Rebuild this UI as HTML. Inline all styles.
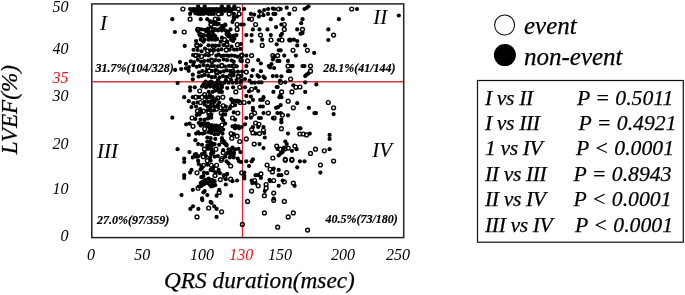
<!DOCTYPE html>
<html><head><meta charset="utf-8">
<style>
html,body{margin:0;padding:0;background:#fff;width:685px;height:295px;overflow:hidden;}
svg{display:block;will-change:transform;}
text{font-family:"Liberation Serif",serif;font-style:italic;fill:#000;stroke:#000;stroke-width:0.25px;}
.t{font-size:16px;}
.t text{stroke-width:0;}
.q{font-size:21px;}
.q text{stroke-width:0.1px;}
.p{font-size:12px;font-weight:bold;}
.p text{stroke-width:0.2px;}
.s{font-size:21.7px;}
.r{fill:#e8151d;stroke:#e8151d;}
.L{letter-spacing:-0.4px;}
</style></head><body>
<svg width="685" height="295" viewBox="0 0 685 295">
<!-- y tick labels -->
<g class="t" text-anchor="end">
<text x="68.6" y="11.7">50</text>
<text x="68.6" y="54.0">40</text>
<text x="68.6" y="82.7" class="r">35</text>
<text x="68.6" y="101.4">30</text>
<text x="68.6" y="148.7">20</text>
<text x="68.6" y="194.1">10</text>
<text x="68.6" y="241.1">0</text>
</g>
<!-- x tick labels -->
<g class="t">
<text x="87" y="259.6">0</text>
<text x="134.3" y="259.6">50</text>
<text x="190" y="259.6">100</text>
<text x="229.2" y="259.6" class="r">130</text>
<text x="268" y="259.6">150</text>
<text x="331" y="259.6">200</text>
<text x="386" y="259.6">250</text>
</g>
<!-- axis titles -->
<text x="164" y="288.3" style="font-size:23.3px">QRS duration(msec)</text>
<text transform="translate(17,154.3) rotate(-90)" style="font-size:23.2px">LVEF(%)</text>
<!-- red lines -->
<line x1="92.5" y1="81.8" x2="403" y2="81.8" stroke="#dc3a3c" stroke-width="1.6"/>
<line x1="242.5" y1="4.5" x2="242.5" y2="237" stroke="#e3242f" stroke-width="1.3"/>
<!-- dots -->
<g id="dots"><g fill="#000"><circle cx="186.2" cy="124.3" r="2.1"/><circle cx="189.5" cy="123.6" r="2.1"/><circle cx="198.7" cy="123.0" r="2.1"/><circle cx="202.0" cy="123.6" r="2.1"/><circle cx="204.7" cy="123.0" r="2.1"/><circle cx="208.0" cy="123.6" r="2.1"/><circle cx="211.3" cy="125.0" r="2.1"/><circle cx="214.6" cy="125.6" r="2.1"/><circle cx="225.2" cy="123.6" r="2.1"/><circle cx="232.5" cy="126.3" r="2.1"/><circle cx="235.1" cy="125.6" r="2.1"/><circle cx="238.4" cy="126.3" r="2.1"/><circle cx="241.7" cy="127.0" r="2.1"/><circle cx="210.0" cy="128.9" r="2.1"/><circle cx="212.6" cy="128.3" r="2.1"/><circle cx="215.9" cy="128.9" r="2.1"/><circle cx="219.2" cy="128.3" r="2.1"/><circle cx="223.2" cy="129.6" r="2.1"/><circle cx="235.1" cy="128.3" r="2.1"/><circle cx="239.1" cy="128.3" r="2.1"/><circle cx="188.8" cy="134.9" r="2.1"/><circle cx="196.1" cy="133.6" r="2.1"/><circle cx="199.4" cy="133.6" r="2.1"/><circle cx="202.7" cy="133.6" r="2.1"/><circle cx="211.3" cy="132.9" r="2.1"/><circle cx="214.6" cy="134.2" r="2.1"/><circle cx="217.9" cy="134.2" r="2.1"/><circle cx="222.5" cy="133.6" r="2.1"/><circle cx="233.8" cy="134.2" r="2.1"/><circle cx="195.4" cy="140.2" r="2.1"/><circle cx="207.3" cy="137.5" r="2.1"/><circle cx="210.6" cy="138.2" r="2.1"/><circle cx="215.3" cy="138.9" r="2.1"/><circle cx="221.9" cy="138.2" r="2.1"/><circle cx="207.3" cy="141.5" r="2.1"/><circle cx="210.6" cy="142.2" r="2.1"/><circle cx="224.5" cy="142.2" r="2.1"/><circle cx="225.8" cy="144.1" r="2.1"/><circle cx="198.1" cy="144.1" r="2.1"/><circle cx="202.0" cy="144.8" r="2.1"/><circle cx="207.3" cy="145.5" r="2.1"/><circle cx="212.0" cy="145.5" r="2.1"/><circle cx="214.6" cy="144.1" r="2.1"/><circle cx="219.2" cy="144.8" r="2.1"/><circle cx="226.5" cy="144.8" r="2.1"/><circle cx="232.5" cy="147.5" r="2.1"/><circle cx="177.6" cy="149.2" r="2.1"/><circle cx="208.0" cy="148.8" r="2.1"/><circle cx="211.3" cy="149.4" r="2.1"/><circle cx="223.2" cy="150.1" r="2.1"/><circle cx="228.5" cy="149.4" r="2.1"/><circle cx="231.8" cy="148.8" r="2.1"/><circle cx="235.1" cy="149.4" r="2.1"/><circle cx="238.4" cy="148.8" r="2.1"/><circle cx="189.5" cy="152.1" r="2.1"/><circle cx="196.1" cy="154.1" r="2.1"/><circle cx="204.7" cy="152.7" r="2.1"/><circle cx="211.3" cy="153.4" r="2.1"/><circle cx="227.2" cy="153.4" r="2.1"/><circle cx="230.5" cy="152.1" r="2.1"/><circle cx="233.8" cy="152.7" r="2.1"/><circle cx="240.4" cy="152.1" r="2.1"/><circle cx="184.2" cy="158.7" r="2.1"/><circle cx="192.8" cy="157.4" r="2.1"/><circle cx="196.7" cy="156.7" r="2.1"/><circle cx="206.0" cy="156.1" r="2.1"/><circle cx="210.0" cy="157.4" r="2.1"/><circle cx="214.6" cy="156.7" r="2.1"/><circle cx="217.9" cy="156.1" r="2.1"/><circle cx="225.2" cy="156.7" r="2.1"/><circle cx="229.8" cy="157.4" r="2.1"/><circle cx="233.8" cy="157.4" r="2.1"/><circle cx="237.8" cy="158.7" r="2.1"/><circle cx="200.7" cy="125.6" r="2.1"/><circle cx="204.0" cy="125.0" r="2.1"/><circle cx="207.3" cy="126.3" r="2.1"/><circle cx="210.6" cy="127.0" r="2.1"/><circle cx="213.3" cy="126.3" r="2.1"/><circle cx="216.6" cy="125.6" r="2.1"/><circle cx="219.2" cy="126.3" r="2.1"/><circle cx="211.3" cy="130.9" r="2.1"/><circle cx="214.6" cy="130.3" r="2.1"/><circle cx="217.9" cy="130.9" r="2.1"/><circle cx="220.6" cy="131.6" r="2.1"/><circle cx="208.7" cy="132.2" r="2.1"/><circle cx="204.7" cy="132.9" r="2.1"/><circle cx="198.1" cy="132.2" r="2.1"/><circle cx="210.0" cy="144.8" r="2.1"/><circle cx="212.6" cy="143.5" r="2.1"/><circle cx="210.6" cy="147.5" r="2.1"/><circle cx="212.0" cy="150.8" r="2.1"/><circle cx="211.3" cy="154.1" r="2.1"/><circle cx="213.3" cy="152.7" r="2.1"/><circle cx="223.2" cy="140.8" r="2.1"/><circle cx="224.5" cy="143.5" r="2.1"/><circle cx="226.5" cy="145.5" r="2.1"/><circle cx="228.5" cy="152.7" r="2.1"/><circle cx="231.1" cy="154.7" r="2.1"/><circle cx="233.8" cy="154.1" r="2.1"/><circle cx="194.8" cy="154.7" r="2.1"/><circle cx="198.7" cy="156.1" r="2.1"/><circle cx="202.0" cy="154.1" r="2.1"/><circle cx="184.2" cy="162.0" r="2.1"/><circle cx="198.1" cy="160.7" r="2.1"/><circle cx="210.6" cy="160.7" r="2.1"/><circle cx="226.5" cy="161.3" r="2.1"/><circle cx="239.1" cy="161.3" r="2.1"/><circle cx="241.1" cy="162.0" r="2.1"/><circle cx="198.7" cy="164.0" r="2.1"/><circle cx="201.4" cy="166.0" r="2.1"/><circle cx="207.3" cy="164.6" r="2.1"/><circle cx="213.3" cy="167.3" r="2.1"/><circle cx="228.5" cy="163.3" r="2.1"/><circle cx="191.5" cy="169.9" r="2.1"/><circle cx="190.1" cy="172.6" r="2.1"/><circle cx="200.7" cy="169.3" r="2.1"/><circle cx="202.0" cy="167.9" r="2.1"/><circle cx="204.0" cy="172.6" r="2.1"/><circle cx="207.3" cy="173.2" r="2.1"/><circle cx="210.6" cy="169.9" r="2.1"/><circle cx="213.3" cy="170.6" r="2.1"/><circle cx="218.6" cy="169.9" r="2.1"/><circle cx="215.9" cy="172.6" r="2.1"/><circle cx="219.9" cy="173.2" r="2.1"/><circle cx="184.2" cy="175.2" r="2.1"/><circle cx="184.2" cy="177.9" r="2.1"/><circle cx="201.4" cy="177.2" r="2.1"/><circle cx="203.4" cy="175.9" r="2.1"/><circle cx="204.7" cy="179.8" r="2.1"/><circle cx="208.7" cy="178.5" r="2.1"/><circle cx="212.0" cy="179.8" r="2.1"/><circle cx="214.6" cy="181.2" r="2.1"/><circle cx="223.9" cy="175.2" r="2.1"/><circle cx="227.2" cy="173.9" r="2.1"/><circle cx="225.8" cy="179.2" r="2.1"/><circle cx="232.5" cy="181.2" r="2.1"/><circle cx="237.1" cy="180.5" r="2.1"/><circle cx="200.7" cy="183.1" r="2.1"/><circle cx="203.4" cy="184.5" r="2.1"/><circle cx="207.3" cy="183.1" r="2.1"/><circle cx="210.0" cy="185.1" r="2.1"/><circle cx="211.3" cy="186.5" r="2.1"/><circle cx="215.3" cy="185.1" r="2.1"/><circle cx="225.8" cy="184.5" r="2.1"/><circle cx="198.7" cy="186.5" r="2.1"/><circle cx="201.4" cy="185.8" r="2.1"/><circle cx="192.8" cy="189.8" r="2.1"/><circle cx="219.2" cy="189.8" r="2.1"/><circle cx="204.7" cy="191.1" r="2.1"/><circle cx="203.4" cy="192.4" r="2.1"/><circle cx="181.5" cy="195.1" r="2.1"/><circle cx="207.3" cy="195.1" r="2.1"/><circle cx="216.6" cy="195.7" r="2.1"/><circle cx="231.1" cy="195.7" r="2.1"/><circle cx="202.0" cy="198.4" r="2.1"/><circle cx="206.0" cy="179.8" r="2.1"/><circle cx="210.0" cy="181.2" r="2.1"/><circle cx="212.6" cy="182.8" r="2.1"/><circle cx="202.3" cy="181.8" r="2.1"/><circle cx="204.4" cy="183.8" r="2.1"/><circle cx="213.3" cy="185.8" r="2.1"/><circle cx="202.3" cy="200.1" r="2.1"/><circle cx="210.6" cy="201.9" r="2.1"/><circle cx="211.6" cy="203.0" r="2.1"/><circle cx="193.0" cy="206.3" r="2.1"/><circle cx="190.4" cy="208.9" r="2.1"/><circle cx="198.3" cy="208.9" r="2.1"/><circle cx="214.2" cy="206.3" r="2.1"/><circle cx="216.6" cy="208.9" r="2.1"/><circle cx="216.6" cy="216.9" r="2.1"/><circle cx="190.1" cy="9.0" r="2.1"/><circle cx="192.8" cy="9.0" r="2.1"/><circle cx="195.4" cy="9.0" r="2.1"/><circle cx="198.1" cy="9.0" r="2.1"/><circle cx="200.7" cy="9.0" r="2.1"/><circle cx="203.4" cy="9.0" r="2.1"/><circle cx="206.0" cy="9.0" r="2.1"/><circle cx="208.7" cy="9.0" r="2.1"/><circle cx="211.3" cy="9.0" r="2.1"/><circle cx="213.9" cy="9.0" r="2.1"/><circle cx="216.6" cy="9.0" r="2.1"/><circle cx="219.2" cy="9.0" r="2.1"/><circle cx="221.9" cy="9.0" r="2.1"/><circle cx="224.5" cy="9.0" r="2.1"/><circle cx="227.2" cy="9.0" r="2.1"/><circle cx="229.8" cy="9.0" r="2.1"/><circle cx="232.5" cy="9.0" r="2.1"/><circle cx="235.1" cy="9.0" r="2.1"/><circle cx="198.1" cy="6.3" r="2.1"/><circle cx="204.7" cy="6.3" r="2.1"/><circle cx="221.9" cy="6.3" r="2.1"/><circle cx="228.5" cy="6.3" r="2.1"/><circle cx="234.4" cy="6.3" r="2.1"/><circle cx="190.1" cy="13.9" r="2.1"/><circle cx="195.4" cy="13.3" r="2.1"/><circle cx="198.1" cy="13.9" r="2.1"/><circle cx="200.7" cy="13.9" r="2.1"/><circle cx="203.4" cy="13.9" r="2.1"/><circle cx="206.0" cy="13.3" r="2.1"/><circle cx="208.7" cy="13.9" r="2.1"/><circle cx="211.3" cy="13.9" r="2.1"/><circle cx="213.9" cy="13.9" r="2.1"/><circle cx="221.9" cy="13.9" r="2.1"/><circle cx="233.8" cy="13.9" r="2.1"/><circle cx="237.1" cy="16.6" r="2.1"/><circle cx="233.8" cy="17.2" r="2.1"/><circle cx="172.3" cy="19.2" r="2.1"/><circle cx="200.7" cy="19.2" r="2.1"/><circle cx="207.3" cy="19.2" r="2.1"/><circle cx="218.6" cy="19.2" r="2.1"/><circle cx="233.8" cy="19.2" r="2.1"/><circle cx="232.5" cy="21.9" r="2.1"/><circle cx="214.6" cy="23.8" r="2.1"/><circle cx="217.2" cy="24.5" r="2.1"/><circle cx="225.2" cy="24.5" r="2.1"/><circle cx="241.1" cy="24.5" r="2.1"/><circle cx="174.9" cy="32.0" r="2.1"/><circle cx="201.4" cy="29.4" r="2.1"/><circle cx="204.7" cy="29.8" r="2.1"/><circle cx="208.0" cy="28.5" r="2.1"/><circle cx="215.3" cy="29.4" r="2.1"/><circle cx="219.2" cy="29.4" r="2.1"/><circle cx="223.2" cy="28.5" r="2.1"/><circle cx="221.9" cy="30.5" r="2.1"/><circle cx="230.5" cy="29.4" r="2.1"/><circle cx="204.0" cy="35.1" r="2.1"/><circle cx="210.6" cy="35.1" r="2.1"/><circle cx="213.9" cy="35.1" r="2.1"/><circle cx="227.2" cy="35.1" r="2.1"/><circle cx="229.8" cy="35.1" r="2.1"/><circle cx="236.4" cy="35.1" r="2.1"/><circle cx="200.7" cy="39.7" r="2.1"/><circle cx="204.7" cy="39.7" r="2.1"/><circle cx="208.7" cy="39.7" r="2.1"/><circle cx="212.0" cy="39.7" r="2.1"/><circle cx="215.3" cy="39.7" r="2.1"/><circle cx="231.1" cy="39.7" r="2.1"/><circle cx="234.4" cy="38.7" r="2.1"/><circle cx="191.5" cy="10.9" r="2.1"/><circle cx="194.8" cy="10.9" r="2.1"/><circle cx="198.1" cy="10.9" r="2.1"/><circle cx="201.4" cy="10.9" r="2.1"/><circle cx="204.7" cy="10.9" r="2.1"/><circle cx="208.0" cy="10.9" r="2.1"/><circle cx="211.3" cy="10.9" r="2.1"/><circle cx="214.6" cy="10.9" r="2.1"/><circle cx="217.9" cy="10.9" r="2.1"/><circle cx="221.2" cy="10.9" r="2.1"/><circle cx="224.5" cy="10.9" r="2.1"/><circle cx="227.8" cy="10.9" r="2.1"/><circle cx="231.1" cy="10.9" r="2.1"/><circle cx="210.0" cy="21.2" r="2.1"/><circle cx="213.3" cy="21.9" r="2.1"/><circle cx="215.9" cy="22.5" r="2.1"/><circle cx="218.6" cy="23.8" r="2.1"/><circle cx="221.9" cy="25.8" r="2.1"/><circle cx="225.2" cy="25.2" r="2.1"/><circle cx="223.2" cy="27.1" r="2.1"/><circle cx="220.6" cy="28.5" r="2.1"/><circle cx="217.9" cy="30.5" r="2.1"/><circle cx="225.8" cy="30.5" r="2.1"/><circle cx="228.5" cy="31.8" r="2.1"/><circle cx="198.1" cy="31.1" r="2.1"/><circle cx="206.0" cy="31.1" r="2.1"/><circle cx="208.7" cy="32.4" r="2.1"/><circle cx="212.6" cy="31.8" r="2.1"/><circle cx="199.4" cy="34.4" r="2.1"/><circle cx="202.7" cy="36.4" r="2.1"/><circle cx="207.3" cy="35.7" r="2.1"/><circle cx="209.3" cy="37.7" r="2.1"/><circle cx="212.0" cy="37.1" r="2.1"/><circle cx="215.3" cy="36.4" r="2.1"/><circle cx="217.2" cy="39.1" r="2.1"/><circle cx="221.9" cy="37.7" r="2.1"/><circle cx="226.5" cy="33.8" r="2.1"/><circle cx="228.5" cy="36.4" r="2.1"/><circle cx="231.8" cy="37.7" r="2.1"/><circle cx="233.8" cy="35.7" r="2.1"/><circle cx="233.1" cy="41.0" r="2.1"/><circle cx="227.2" cy="41.7" r="2.1"/><circle cx="220.6" cy="41.7" r="2.1"/><circle cx="203.4" cy="41.7" r="2.1"/><circle cx="196.1" cy="41.0" r="2.1"/><circle cx="184.7" cy="45.9" r="2.1"/><circle cx="200.7" cy="45.3" r="2.1"/><circle cx="208.5" cy="45.3" r="2.1"/><circle cx="212.2" cy="45.7" r="2.1"/><circle cx="215.7" cy="45.7" r="2.1"/><circle cx="218.9" cy="45.5" r="2.1"/><circle cx="223.4" cy="45.0" r="2.1"/><circle cx="231.5" cy="46.5" r="2.1"/><circle cx="240.7" cy="44.0" r="2.1"/><circle cx="193.6" cy="49.8" r="2.1"/><circle cx="197.6" cy="50.1" r="2.1"/><circle cx="201.6" cy="51.3" r="2.1"/><circle cx="205.0" cy="48.6" r="2.1"/><circle cx="210.2" cy="50.3" r="2.1"/><circle cx="214.0" cy="50.3" r="2.1"/><circle cx="218.1" cy="50.1" r="2.1"/><circle cx="221.5" cy="49.4" r="2.1"/><circle cx="229.6" cy="49.6" r="2.1"/><circle cx="234.0" cy="49.6" r="2.1"/><circle cx="236.9" cy="49.6" r="2.1"/><circle cx="240.5" cy="48.9" r="2.1"/><circle cx="193.1" cy="55.0" r="2.1"/><circle cx="198.6" cy="55.4" r="2.1"/><circle cx="205.2" cy="55.0" r="2.1"/><circle cx="208.7" cy="55.5" r="2.1"/><circle cx="216.3" cy="55.7" r="2.1"/><circle cx="218.6" cy="54.6" r="2.1"/><circle cx="221.3" cy="56.1" r="2.1"/><circle cx="223.9" cy="55.5" r="2.1"/><circle cx="226.9" cy="55.5" r="2.1"/><circle cx="229.1" cy="55.8" r="2.1"/><circle cx="231.5" cy="55.5" r="2.1"/><circle cx="234.6" cy="55.8" r="2.1"/><circle cx="237.6" cy="56.7" r="2.1"/><circle cx="179.9" cy="62.1" r="2.1"/><circle cx="190.8" cy="61.4" r="2.1"/><circle cx="194.0" cy="62.1" r="2.1"/><circle cx="197.8" cy="59.8" r="2.1"/><circle cx="201.1" cy="61.7" r="2.1"/><circle cx="204.2" cy="61.1" r="2.1"/><circle cx="208.0" cy="60.6" r="2.1"/><circle cx="215.5" cy="60.1" r="2.1"/><circle cx="219.0" cy="60.6" r="2.1"/><circle cx="223.6" cy="59.4" r="2.1"/><circle cx="227.0" cy="60.2" r="2.1"/><circle cx="231.5" cy="60.5" r="2.1"/><circle cx="233.7" cy="61.5" r="2.1"/><circle cx="241.7" cy="61.1" r="2.1"/><circle cx="181.2" cy="69.1" r="2.1"/><circle cx="186.0" cy="63.8" r="2.1"/><circle cx="189.0" cy="67.1" r="2.1"/><circle cx="193.3" cy="65.2" r="2.1"/><circle cx="196.8" cy="66.8" r="2.1"/><circle cx="199.7" cy="66.1" r="2.1"/><circle cx="203.6" cy="65.1" r="2.1"/><circle cx="207.7" cy="65.5" r="2.1"/><circle cx="211.6" cy="66.0" r="2.1"/><circle cx="214.1" cy="66.0" r="2.1"/><circle cx="217.8" cy="66.3" r="2.1"/><circle cx="225.0" cy="66.5" r="2.1"/><circle cx="228.9" cy="65.9" r="2.1"/><circle cx="231.9" cy="65.9" r="2.1"/><circle cx="236.8" cy="66.3" r="2.1"/><circle cx="175.1" cy="69.9" r="2.1"/><circle cx="186.0" cy="68.3" r="2.1"/><circle cx="188.7" cy="70.8" r="2.1"/><circle cx="199.0" cy="72.3" r="2.1"/><circle cx="202.3" cy="71.1" r="2.1"/><circle cx="206.2" cy="71.3" r="2.1"/><circle cx="212.0" cy="70.9" r="2.1"/><circle cx="215.6" cy="70.0" r="2.1"/><circle cx="220.3" cy="72.1" r="2.1"/><circle cx="223.9" cy="71.3" r="2.1"/><circle cx="226.7" cy="70.3" r="2.1"/><circle cx="230.1" cy="71.1" r="2.1"/><circle cx="233.8" cy="72.2" r="2.1"/><circle cx="238.0" cy="71.7" r="2.1"/><circle cx="242.0" cy="71.5" r="2.1"/><circle cx="192.8" cy="74.7" r="2.1"/><circle cx="198.6" cy="76.6" r="2.1"/><circle cx="201.7" cy="76.0" r="2.1"/><circle cx="204.6" cy="74.9" r="2.1"/><circle cx="208.4" cy="75.8" r="2.1"/><circle cx="211.8" cy="77.2" r="2.1"/><circle cx="215.0" cy="76.9" r="2.1"/><circle cx="219.6" cy="77.4" r="2.1"/><circle cx="223.0" cy="76.1" r="2.1"/><circle cx="226.2" cy="77.1" r="2.1"/><circle cx="230.1" cy="75.0" r="2.1"/><circle cx="233.6" cy="75.5" r="2.1"/><circle cx="241.4" cy="75.8" r="2.1"/><circle cx="192.8" cy="79.3" r="2.1"/><circle cx="205.7" cy="81.5" r="2.1"/><circle cx="211.0" cy="81.7" r="2.1"/><circle cx="218.0" cy="79.8" r="2.1"/><circle cx="225.9" cy="80.2" r="2.1"/><circle cx="231.1" cy="80.1" r="2.1"/><circle cx="236.5" cy="80.0" r="2.1"/><circle cx="241.4" cy="80.5" r="2.1"/><circle cx="177.6" cy="83.1" r="2.1"/><circle cx="204.7" cy="82.7" r="2.1"/><circle cx="208.7" cy="82.7" r="2.1"/><circle cx="212.6" cy="82.7" r="2.1"/><circle cx="216.6" cy="82.7" r="2.1"/><circle cx="220.6" cy="82.7" r="2.1"/><circle cx="224.5" cy="82.7" r="2.1"/><circle cx="228.5" cy="82.7" r="2.1"/><circle cx="232.5" cy="82.7" r="2.1"/><circle cx="236.4" cy="82.7" r="2.1"/><circle cx="240.4" cy="82.7" r="2.1"/><circle cx="190.1" cy="87.3" r="2.1"/><circle cx="194.8" cy="87.3" r="2.1"/><circle cx="202.0" cy="86.6" r="2.1"/><circle cx="206.0" cy="87.3" r="2.1"/><circle cx="210.0" cy="86.6" r="2.1"/><circle cx="213.9" cy="87.3" r="2.1"/><circle cx="217.9" cy="87.3" r="2.1"/><circle cx="221.9" cy="87.3" r="2.1"/><circle cx="227.2" cy="88.0" r="2.1"/><circle cx="233.1" cy="87.3" r="2.1"/><circle cx="190.1" cy="90.6" r="2.1"/><circle cx="208.7" cy="91.9" r="2.1"/><circle cx="212.6" cy="91.9" r="2.1"/><circle cx="219.2" cy="91.9" r="2.1"/><circle cx="221.9" cy="91.9" r="2.1"/><circle cx="184.2" cy="97.2" r="2.1"/><circle cx="192.8" cy="97.2" r="2.1"/><circle cx="198.7" cy="97.2" r="2.1"/><circle cx="206.0" cy="96.6" r="2.1"/><circle cx="209.3" cy="97.2" r="2.1"/><circle cx="212.6" cy="97.2" r="2.1"/><circle cx="216.6" cy="99.2" r="2.1"/><circle cx="188.8" cy="101.2" r="2.1"/><circle cx="193.4" cy="103.2" r="2.1"/><circle cx="197.4" cy="102.5" r="2.1"/><circle cx="204.7" cy="101.8" r="2.1"/><circle cx="208.0" cy="101.8" r="2.1"/><circle cx="211.3" cy="101.2" r="2.1"/><circle cx="214.6" cy="101.8" r="2.1"/><circle cx="219.2" cy="102.5" r="2.1"/><circle cx="232.5" cy="101.2" r="2.1"/><circle cx="235.8" cy="101.2" r="2.1"/><circle cx="238.4" cy="101.8" r="2.1"/><circle cx="191.5" cy="107.1" r="2.1"/><circle cx="196.1" cy="106.5" r="2.1"/><circle cx="207.3" cy="106.5" r="2.1"/><circle cx="210.6" cy="105.8" r="2.1"/><circle cx="214.6" cy="106.5" r="2.1"/><circle cx="217.9" cy="107.1" r="2.1"/><circle cx="225.8" cy="106.5" r="2.1"/><circle cx="230.5" cy="106.5" r="2.1"/><circle cx="235.1" cy="105.1" r="2.1"/><circle cx="200.7" cy="111.1" r="2.1"/><circle cx="207.3" cy="110.4" r="2.1"/><circle cx="210.6" cy="110.4" r="2.1"/><circle cx="213.9" cy="110.4" r="2.1"/><circle cx="223.2" cy="110.4" r="2.1"/><circle cx="226.5" cy="110.4" r="2.1"/><circle cx="196.7" cy="115.1" r="2.1"/><circle cx="199.4" cy="114.4" r="2.1"/><circle cx="208.7" cy="115.1" r="2.1"/><circle cx="211.3" cy="114.4" r="2.1"/><circle cx="222.5" cy="115.1" r="2.1"/><circle cx="225.2" cy="114.4" r="2.1"/><circle cx="233.8" cy="112.4" r="2.1"/><circle cx="172.3" cy="117.7" r="2.1"/><circle cx="195.4" cy="119.0" r="2.1"/><circle cx="200.7" cy="119.7" r="2.1"/><circle cx="204.7" cy="119.7" r="2.1"/><circle cx="208.0" cy="118.4" r="2.1"/><circle cx="211.3" cy="117.7" r="2.1"/><circle cx="221.9" cy="118.4" r="2.1"/><circle cx="223.2" cy="120.4" r="2.1"/><circle cx="235.1" cy="119.7" r="2.1"/><circle cx="203.4" cy="84.6" r="2.1"/><circle cx="207.3" cy="85.3" r="2.1"/><circle cx="210.6" cy="84.6" r="2.1"/><circle cx="214.6" cy="85.3" r="2.1"/><circle cx="217.9" cy="84.6" r="2.1"/><circle cx="221.9" cy="85.3" r="2.1"/><circle cx="217.9" cy="89.3" r="2.1"/><circle cx="215.3" cy="90.6" r="2.1"/><circle cx="220.6" cy="89.9" r="2.1"/><circle cx="210.0" cy="95.2" r="2.1"/><circle cx="206.7" cy="97.9" r="2.1"/><circle cx="213.3" cy="99.9" r="2.1"/><circle cx="204.7" cy="104.5" r="2.1"/><circle cx="217.9" cy="105.1" r="2.1"/><circle cx="210.0" cy="107.8" r="2.1"/><circle cx="201.4" cy="112.4" r="2.1"/><circle cx="198.1" cy="113.7" r="2.1"/><circle cx="200.1" cy="109.1" r="2.1"/><circle cx="231.1" cy="99.2" r="2.1"/><circle cx="233.8" cy="100.5" r="2.1"/><circle cx="237.1" cy="100.5" r="2.1"/><circle cx="239.1" cy="101.2" r="2.1"/><circle cx="229.8" cy="108.5" r="2.1"/><circle cx="245.0" cy="124.3" r="2.1"/><circle cx="258.2" cy="127.0" r="2.1"/><circle cx="252.9" cy="127.0" r="2.1"/><circle cx="263.5" cy="127.0" r="2.1"/><circle cx="264.2" cy="132.9" r="2.1"/><circle cx="255.6" cy="133.6" r="2.1"/><circle cx="264.8" cy="137.5" r="2.1"/><circle cx="281.4" cy="122.3" r="2.1"/><circle cx="288.0" cy="133.6" r="2.1"/><circle cx="298.6" cy="128.3" r="2.1"/><circle cx="300.5" cy="128.3" r="2.1"/><circle cx="309.8" cy="133.6" r="2.1"/><circle cx="259.5" cy="144.1" r="2.1"/><circle cx="263.5" cy="148.1" r="2.1"/><circle cx="285.3" cy="141.5" r="2.1"/><circle cx="286.7" cy="144.1" r="2.1"/><circle cx="277.4" cy="148.8" r="2.1"/><circle cx="284.0" cy="147.5" r="2.1"/><circle cx="283.3" cy="149.4" r="2.1"/><circle cx="282.7" cy="152.1" r="2.1"/><circle cx="280.7" cy="153.4" r="2.1"/><circle cx="278.7" cy="155.4" r="2.1"/><circle cx="291.9" cy="150.8" r="2.1"/><circle cx="296.6" cy="149.2" r="2.1"/><circle cx="252.9" cy="159.4" r="2.1"/><circle cx="246.3" cy="161.3" r="2.1"/><circle cx="251.6" cy="161.3" r="2.1"/><circle cx="249.0" cy="166.0" r="2.1"/><circle cx="273.7" cy="168.6" r="2.1"/><circle cx="278.7" cy="169.9" r="2.1"/><circle cx="297.2" cy="167.3" r="2.1"/><circle cx="299.9" cy="161.3" r="2.1"/><circle cx="304.5" cy="161.3" r="2.1"/><circle cx="320.4" cy="172.6" r="2.1"/><circle cx="244.3" cy="172.6" r="2.1"/><circle cx="244.3" cy="175.9" r="2.1"/><circle cx="244.3" cy="178.5" r="2.1"/><circle cx="255.6" cy="175.2" r="2.1"/><circle cx="258.2" cy="175.2" r="2.1"/><circle cx="260.9" cy="177.9" r="2.1"/><circle cx="251.6" cy="180.5" r="2.1"/><circle cx="252.3" cy="183.1" r="2.1"/><circle cx="255.6" cy="183.1" r="2.1"/><circle cx="269.5" cy="179.8" r="2.1"/><circle cx="270.1" cy="181.2" r="2.1"/><circle cx="278.7" cy="175.2" r="2.1"/><circle cx="281.4" cy="175.2" r="2.1"/><circle cx="282.7" cy="180.5" r="2.1"/><circle cx="294.6" cy="185.8" r="2.1"/><circle cx="278.7" cy="185.8" r="2.1"/><circle cx="264.8" cy="191.1" r="2.1"/><circle cx="273.7" cy="198.6" r="2.1"/><circle cx="244.1" cy="9.0" r="2.1"/><circle cx="259.5" cy="11.3" r="2.1"/><circle cx="264.2" cy="10.0" r="2.1"/><circle cx="268.1" cy="9.0" r="2.1"/><circle cx="272.8" cy="8.6" r="2.1"/><circle cx="274.7" cy="9.0" r="2.1"/><circle cx="280.7" cy="9.0" r="2.1"/><circle cx="286.7" cy="7.7" r="2.1"/><circle cx="304.5" cy="9.0" r="2.1"/><circle cx="306.5" cy="8.0" r="2.1"/><circle cx="308.5" cy="6.3" r="2.1"/><circle cx="250.9" cy="13.9" r="2.1"/><circle cx="254.2" cy="14.6" r="2.1"/><circle cx="263.5" cy="15.2" r="2.1"/><circle cx="258.9" cy="16.6" r="2.1"/><circle cx="268.1" cy="13.9" r="2.1"/><circle cx="273.4" cy="13.9" r="2.1"/><circle cx="275.4" cy="13.9" r="2.1"/><circle cx="289.3" cy="13.9" r="2.1"/><circle cx="249.0" cy="19.2" r="2.1"/><circle cx="270.8" cy="19.2" r="2.1"/><circle cx="282.7" cy="19.2" r="2.1"/><circle cx="302.5" cy="19.2" r="2.1"/><circle cx="301.2" cy="23.2" r="2.1"/><circle cx="243.7" cy="24.5" r="2.1"/><circle cx="281.4" cy="24.5" r="2.1"/><circle cx="276.1" cy="27.1" r="2.1"/><circle cx="252.9" cy="29.4" r="2.1"/><circle cx="259.5" cy="29.4" r="2.1"/><circle cx="267.5" cy="29.4" r="2.1"/><circle cx="297.2" cy="29.4" r="2.1"/><circle cx="300.5" cy="33.8" r="2.1"/><circle cx="302.5" cy="33.1" r="2.1"/><circle cx="246.3" cy="35.1" r="2.1"/><circle cx="251.6" cy="35.1" r="2.1"/><circle cx="270.8" cy="35.1" r="2.1"/><circle cx="280.7" cy="35.7" r="2.1"/><circle cx="282.0" cy="33.8" r="2.1"/><circle cx="251.6" cy="41.0" r="2.1"/><circle cx="262.2" cy="39.7" r="2.1"/><circle cx="278.7" cy="40.0" r="2.1"/><circle cx="289.3" cy="40.0" r="2.1"/><circle cx="293.9" cy="39.7" r="2.1"/><circle cx="297.2" cy="41.0" r="2.1"/><circle cx="276.7" cy="44.3" r="2.1"/><circle cx="297.2" cy="45.4" r="2.1"/><circle cx="305.2" cy="45.4" r="2.1"/><circle cx="278.7" cy="50.3" r="2.1"/><circle cx="280.7" cy="50.3" r="2.1"/><circle cx="314.2" cy="52.9" r="2.1"/><circle cx="246.3" cy="55.6" r="2.1"/><circle cx="274.1" cy="56.9" r="2.1"/><circle cx="284.3" cy="55.6" r="2.1"/><circle cx="295.9" cy="55.6" r="2.1"/><circle cx="258.2" cy="60.2" r="2.1"/><circle cx="260.9" cy="63.5" r="2.1"/><circle cx="272.8" cy="59.5" r="2.1"/><circle cx="277.4" cy="60.9" r="2.1"/><circle cx="279.4" cy="60.9" r="2.1"/><circle cx="288.0" cy="60.9" r="2.1"/><circle cx="246.3" cy="66.1" r="2.1"/><circle cx="268.8" cy="66.1" r="2.1"/><circle cx="271.4" cy="64.2" r="2.1"/><circle cx="270.1" cy="67.5" r="2.1"/><circle cx="274.1" cy="68.1" r="2.1"/><circle cx="291.3" cy="66.1" r="2.1"/><circle cx="292.6" cy="66.1" r="2.1"/><circle cx="302.5" cy="66.1" r="2.1"/><circle cx="304.5" cy="66.1" r="2.1"/><circle cx="252.9" cy="70.1" r="2.1"/><circle cx="260.9" cy="71.2" r="2.1"/><circle cx="288.0" cy="71.2" r="2.1"/><circle cx="290.0" cy="71.2" r="2.1"/><circle cx="308.5" cy="73.4" r="2.1"/><circle cx="306.5" cy="74.7" r="2.1"/><circle cx="305.2" cy="76.1" r="2.1"/><circle cx="251.6" cy="76.1" r="2.1"/><circle cx="257.6" cy="75.4" r="2.1"/><circle cx="258.9" cy="76.7" r="2.1"/><circle cx="263.5" cy="76.7" r="2.1"/><circle cx="264.8" cy="78.1" r="2.1"/><circle cx="272.8" cy="76.1" r="2.1"/><circle cx="276.7" cy="76.1" r="2.1"/><circle cx="281.4" cy="76.3" r="2.1"/><circle cx="245.0" cy="79.0" r="2.1"/><circle cx="280.0" cy="80.7" r="2.1"/><circle cx="249.6" cy="80.7" r="2.1"/><circle cx="251.6" cy="82.7" r="2.1"/><circle cx="254.9" cy="82.7" r="2.1"/><circle cx="258.9" cy="82.3" r="2.1"/><circle cx="261.5" cy="82.3" r="2.1"/><circle cx="285.3" cy="82.3" r="2.1"/><circle cx="305.2" cy="82.3" r="2.1"/><circle cx="316.4" cy="84.4" r="2.1"/><circle cx="245.0" cy="87.3" r="2.1"/><circle cx="249.0" cy="91.3" r="2.1"/><circle cx="255.6" cy="88.0" r="2.1"/><circle cx="258.2" cy="91.0" r="2.1"/><circle cx="276.7" cy="87.0" r="2.1"/><circle cx="273.4" cy="91.9" r="2.1"/><circle cx="293.3" cy="85.3" r="2.1"/><circle cx="305.2" cy="91.9" r="2.1"/><circle cx="246.3" cy="95.9" r="2.1"/><circle cx="250.9" cy="96.6" r="2.1"/><circle cx="252.9" cy="99.9" r="2.1"/><circle cx="260.2" cy="99.9" r="2.1"/><circle cx="263.5" cy="97.2" r="2.1"/><circle cx="262.8" cy="99.9" r="2.1"/><circle cx="279.4" cy="97.2" r="2.1"/><circle cx="281.4" cy="97.2" r="2.1"/><circle cx="249.0" cy="102.5" r="2.1"/><circle cx="297.2" cy="103.2" r="2.1"/><circle cx="252.9" cy="107.8" r="2.1"/><circle cx="260.2" cy="106.5" r="2.1"/><circle cx="262.8" cy="106.5" r="2.1"/><circle cx="276.1" cy="107.8" r="2.1"/><circle cx="278.1" cy="107.1" r="2.1"/><circle cx="280.7" cy="105.1" r="2.1"/><circle cx="308.9" cy="107.8" r="2.1"/><circle cx="252.9" cy="110.2" r="2.1"/><circle cx="263.5" cy="113.1" r="2.1"/><circle cx="277.4" cy="113.1" r="2.1"/><circle cx="280.7" cy="113.1" r="2.1"/><circle cx="288.0" cy="115.3" r="2.1"/><circle cx="314.4" cy="113.1" r="2.1"/><circle cx="246.3" cy="118.0" r="2.1"/><circle cx="258.9" cy="118.0" r="2.1"/><circle cx="260.9" cy="118.0" r="2.1"/><circle cx="272.8" cy="118.0" r="2.1"/><circle cx="281.4" cy="119.7" r="2.1"/><circle cx="250.9" cy="117.7" r="2.1"/><circle cx="280.3" cy="95.6" r="2.1"/><circle cx="316.0" cy="113.1" r="2.1"/><circle cx="277.7" cy="87.0" r="2.1"/><circle cx="329.6" cy="134.9" r="2.1"/><circle cx="329.6" cy="138.9" r="2.1"/><circle cx="329.6" cy="149.2" r="2.1"/><circle cx="357.0" cy="9.0" r="2.1"/><circle cx="338.9" cy="19.2" r="2.1"/><circle cx="398.8" cy="15.5" r="2.1"/><circle cx="328.3" cy="29.4" r="2.1"/><circle cx="328.3" cy="40.0" r="2.1"/><circle cx="333.6" cy="114.1" r="2.1"/></g><g fill="none" stroke="#000" stroke-width="1.4"><circle cx="197.8" cy="29.7" r="1.9"/><circle cx="211.0" cy="24.6" r="1.9"/><circle cx="210.0" cy="29.7" r="1.9"/><circle cx="213.5" cy="29.9" r="1.9"/><circle cx="200.9" cy="34.8" r="1.9"/><circle cx="196.8" cy="44.9" r="1.9"/><circle cx="226.8" cy="44.9" r="1.9"/><circle cx="213.6" cy="46.4" r="1.9"/><circle cx="195.8" cy="55.6" r="1.9"/><circle cx="211.5" cy="60.2" r="1.9"/><circle cx="221.7" cy="65.8" r="1.9"/><circle cx="233.9" cy="65.8" r="1.9"/><circle cx="216.6" cy="71.4" r="1.9"/><circle cx="232.9" cy="71.4" r="1.9"/><circle cx="238.5" cy="77.0" r="1.9"/><circle cx="229.8" cy="76.4" r="1.9"/><circle cx="241.5" cy="55.6" r="1.9"/><circle cx="241.0" cy="60.2" r="1.9"/><circle cx="193.0" cy="126.3" r="1.9"/><circle cx="221.9" cy="125.0" r="1.9"/><circle cx="204.7" cy="128.7" r="1.9"/><circle cx="220.6" cy="128.7" r="1.9"/><circle cx="231.1" cy="133.6" r="1.9"/><circle cx="237.1" cy="136.2" r="1.9"/><circle cx="231.8" cy="138.2" r="1.9"/><circle cx="239.7" cy="141.5" r="1.9"/><circle cx="222.5" cy="141.5" r="1.9"/><circle cx="208.7" cy="146.1" r="1.9"/><circle cx="204.4" cy="149.2" r="1.9"/><circle cx="215.9" cy="149.2" r="1.9"/><circle cx="223.2" cy="152.7" r="1.9"/><circle cx="203.4" cy="156.7" r="1.9"/><circle cx="221.9" cy="158.7" r="1.9"/><circle cx="207.3" cy="160.7" r="1.9"/><circle cx="221.2" cy="160.3" r="1.9"/><circle cx="203.4" cy="165.3" r="1.9"/><circle cx="211.3" cy="165.3" r="1.9"/><circle cx="216.6" cy="165.3" r="1.9"/><circle cx="230.7" cy="166.0" r="1.9"/><circle cx="197.0" cy="172.8" r="1.9"/><circle cx="215.0" cy="175.6" r="1.9"/><circle cx="241.7" cy="172.8" r="1.9"/><circle cx="220.3" cy="179.6" r="1.9"/><circle cx="224.8" cy="176.5" r="1.9"/><circle cx="230.7" cy="179.2" r="1.9"/><circle cx="198.1" cy="188.2" r="1.9"/><circle cx="219.2" cy="192.4" r="1.9"/><circle cx="208.7" cy="208.0" r="1.9"/><circle cx="221.6" cy="211.8" r="1.9"/><circle cx="197.0" cy="216.9" r="1.9"/><circle cx="242.4" cy="224.4" r="1.9"/><circle cx="182.9" cy="9.0" r="1.9"/><circle cx="238.4" cy="9.0" r="1.9"/><circle cx="218.6" cy="13.9" r="1.9"/><circle cx="229.2" cy="13.9" r="1.9"/><circle cx="239.1" cy="13.9" r="1.9"/><circle cx="190.1" cy="19.2" r="1.9"/><circle cx="215.3" cy="19.2" r="1.9"/><circle cx="211.3" cy="24.5" r="1.9"/><circle cx="237.1" cy="24.5" r="1.9"/><circle cx="184.2" cy="32.0" r="1.9"/><circle cx="198.1" cy="29.4" r="1.9"/><circle cx="211.3" cy="29.4" r="1.9"/><circle cx="237.1" cy="29.4" r="1.9"/><circle cx="200.7" cy="35.1" r="1.9"/><circle cx="224.5" cy="39.7" r="1.9"/><circle cx="197.1" cy="45.9" r="1.9"/><circle cx="226.8" cy="44.1" r="1.9"/><circle cx="237.4" cy="44.7" r="1.9"/><circle cx="207.7" cy="50.9" r="1.9"/><circle cx="226.3" cy="49.9" r="1.9"/><circle cx="195.7" cy="55.3" r="1.9"/><circle cx="201.6" cy="56.5" r="1.9"/><circle cx="211.3" cy="53.0" r="1.9"/><circle cx="241.9" cy="55.2" r="1.9"/><circle cx="212.0" cy="61.4" r="1.9"/><circle cx="207.7" cy="67.4" r="1.9"/><circle cx="221.8" cy="65.4" r="1.9"/><circle cx="233.5" cy="66.1" r="1.9"/><circle cx="209.0" cy="70.9" r="1.9"/><circle cx="216.9" cy="72.7" r="1.9"/><circle cx="238.4" cy="76.2" r="1.9"/><circle cx="239.7" cy="87.3" r="1.9"/><circle cx="199.7" cy="91.0" r="1.9"/><circle cx="235.8" cy="91.9" r="1.9"/><circle cx="195.7" cy="97.2" r="1.9"/><circle cx="202.0" cy="97.2" r="1.9"/><circle cx="222.8" cy="97.2" r="1.9"/><circle cx="200.4" cy="102.5" r="1.9"/><circle cx="240.1" cy="102.5" r="1.9"/><circle cx="212.0" cy="105.1" r="1.9"/><circle cx="223.2" cy="105.8" r="1.9"/><circle cx="232.5" cy="105.1" r="1.9"/><circle cx="197.4" cy="111.1" r="1.9"/><circle cx="203.4" cy="111.1" r="1.9"/><circle cx="220.6" cy="107.8" r="1.9"/><circle cx="237.8" cy="113.1" r="1.9"/><circle cx="192.1" cy="118.0" r="1.9"/><circle cx="232.5" cy="118.0" r="1.9"/><circle cx="204.7" cy="94.6" r="1.9"/><circle cx="217.9" cy="97.9" r="1.9"/><circle cx="212.0" cy="103.2" r="1.9"/><circle cx="216.6" cy="109.1" r="1.9"/><circle cx="208.7" cy="112.4" r="1.9"/><circle cx="221.2" cy="113.1" r="1.9"/><circle cx="255.6" cy="123.0" r="1.9"/><circle cx="258.9" cy="124.3" r="1.9"/><circle cx="251.6" cy="129.6" r="1.9"/><circle cx="263.5" cy="130.3" r="1.9"/><circle cx="252.9" cy="132.9" r="1.9"/><circle cx="259.5" cy="133.6" r="1.9"/><circle cx="281.4" cy="128.7" r="1.9"/><circle cx="299.9" cy="134.0" r="1.9"/><circle cx="303.2" cy="134.0" r="1.9"/><circle cx="306.5" cy="134.9" r="1.9"/><circle cx="246.3" cy="138.9" r="1.9"/><circle cx="254.2" cy="144.1" r="1.9"/><circle cx="276.7" cy="146.1" r="1.9"/><circle cx="280.3" cy="149.2" r="1.9"/><circle cx="285.1" cy="148.8" r="1.9"/><circle cx="288.2" cy="148.1" r="1.9"/><circle cx="294.9" cy="146.1" r="1.9"/><circle cx="310.5" cy="153.4" r="1.9"/><circle cx="315.5" cy="149.2" r="1.9"/><circle cx="272.8" cy="158.0" r="1.9"/><circle cx="285.3" cy="159.4" r="1.9"/><circle cx="291.9" cy="159.4" r="1.9"/><circle cx="267.1" cy="165.0" r="1.9"/><circle cx="270.1" cy="169.3" r="1.9"/><circle cx="272.4" cy="171.9" r="1.9"/><circle cx="286.7" cy="172.6" r="1.9"/><circle cx="285.3" cy="160.3" r="1.9"/><circle cx="291.9" cy="160.3" r="1.9"/><circle cx="320.4" cy="165.0" r="1.9"/><circle cx="260.9" cy="173.9" r="1.9"/><circle cx="254.6" cy="180.5" r="1.9"/><circle cx="258.2" cy="185.8" r="1.9"/><circle cx="273.7" cy="180.5" r="1.9"/><circle cx="284.3" cy="181.8" r="1.9"/><circle cx="293.3" cy="183.1" r="1.9"/><circle cx="266.1" cy="184.5" r="1.9"/><circle cx="266.1" cy="188.2" r="1.9"/><circle cx="251.6" cy="191.1" r="1.9"/><circle cx="273.7" cy="193.1" r="1.9"/><circle cx="264.4" cy="195.7" r="1.9"/><circle cx="247.6" cy="201.4" r="1.9"/><circle cx="273.7" cy="200.3" r="1.9"/><circle cx="284.3" cy="201.4" r="1.9"/><circle cx="264.4" cy="212.9" r="1.9"/><circle cx="288.2" cy="216.9" r="1.9"/><circle cx="293.3" cy="212.9" r="1.9"/><circle cx="277.7" cy="227.2" r="1.9"/><circle cx="307.6" cy="230.1" r="1.9"/><circle cx="278.7" cy="9.0" r="1.9"/><circle cx="294.6" cy="9.0" r="1.9"/><circle cx="261.5" cy="13.9" r="1.9"/><circle cx="251.6" cy="19.2" r="1.9"/><circle cx="255.6" cy="24.5" r="1.9"/><circle cx="284.3" cy="24.5" r="1.9"/><circle cx="284.3" cy="29.4" r="1.9"/><circle cx="302.5" cy="29.4" r="1.9"/><circle cx="260.5" cy="35.1" r="1.9"/><circle cx="271.0" cy="40.0" r="1.9"/><circle cx="282.0" cy="40.0" r="1.9"/><circle cx="290.0" cy="40.0" r="1.9"/><circle cx="262.2" cy="45.4" r="1.9"/><circle cx="293.0" cy="50.3" r="1.9"/><circle cx="307.4" cy="50.3" r="1.9"/><circle cx="251.6" cy="55.6" r="1.9"/><circle cx="272.8" cy="55.6" r="1.9"/><circle cx="277.7" cy="55.6" r="1.9"/><circle cx="247.6" cy="60.9" r="1.9"/><circle cx="288.0" cy="66.1" r="1.9"/><circle cx="310.5" cy="66.1" r="1.9"/><circle cx="246.3" cy="72.1" r="1.9"/><circle cx="310.5" cy="71.2" r="1.9"/><circle cx="290.6" cy="79.0" r="1.9"/><circle cx="280.7" cy="82.3" r="1.9"/><circle cx="251.6" cy="89.3" r="1.9"/><circle cx="281.6" cy="91.9" r="1.9"/><circle cx="295.9" cy="87.3" r="1.9"/><circle cx="299.9" cy="87.0" r="1.9"/><circle cx="291.9" cy="91.9" r="1.9"/><circle cx="244.1" cy="102.5" r="1.9"/><circle cx="267.5" cy="102.5" r="1.9"/><circle cx="288.2" cy="101.2" r="1.9"/><circle cx="293.3" cy="107.8" r="1.9"/><circle cx="254.6" cy="113.1" r="1.9"/><circle cx="251.6" cy="115.1" r="1.9"/><circle cx="268.4" cy="113.1" r="1.9"/><circle cx="282.4" cy="115.1" r="1.9"/><circle cx="274.1" cy="118.0" r="1.9"/><circle cx="324.3" cy="150.8" r="1.9"/><circle cx="333.6" cy="161.1" r="1.9"/><circle cx="351.7" cy="9.0" r="1.9"/><circle cx="333.6" cy="35.1" r="1.9"/><circle cx="328.3" cy="102.5" r="1.9"/><circle cx="333.6" cy="107.8" r="1.9"/></g></g>
<!-- box -->
<rect x="91.8" y="3.9" width="311.9" height="233.7" fill="none" stroke="#222" stroke-width="1.5"/>
<!-- quadrant labels -->
<g class="q">
<text x="100" y="30.2">I</text>
<text x="373.3" y="24.3">II</text>
<text x="97" y="157.6">III</text>
<text x="372.2" y="157.3">IV</text>
</g>
<g class="p">
<text x="95.5" y="72">31.7%(104/328)</text>
<text x="323.3" y="71.6">28.1%(41/144)</text>
<text x="97" y="223.8">27.0%(97/359)</text>
<text x="325.5" y="223.2">40.5%(73/180)</text>
</g>
<!-- legend -->
<circle cx="504.6" cy="25" r="10" fill="none" stroke="#111" stroke-width="1.1"/>
<circle cx="504.9" cy="55.1" r="11" fill="#000"/>
<text x="524" y="34.1" style="font-size:25px">event</text>
<text x="524" y="64.5" style="font-size:25px">non-event</text>
<!-- stats box -->
<rect x="477.5" y="80.5" width="205.8" height="161.7" fill="none" stroke="#111" stroke-width="1.2"/>
<g class="s">
<text class="L" x="485" y="104.9">I vs II</text><text x="577" y="104.9">P = 0.5011</text>
<text class="L" x="485" y="129.9">I vs III</text><text x="578.5" y="129.9">P = 0.4921</text>
<text class="L" x="485" y="155.1">1 vs IV</text><text x="576" y="155.1">P &lt; 0.0001</text>
<text class="L" x="485" y="180.5">II vs III</text><text x="573.5" y="180.5">P = 0.8943</text>
<text class="L" x="485" y="206.4">II vs IV</text><text x="573.5" y="206.4">P &lt; 0.0001</text>
<text class="L" x="485" y="231.6">III vs IV</text><text x="575" y="231.6">P &lt; 0.0001</text>
</g>
</svg>
</body></html>
